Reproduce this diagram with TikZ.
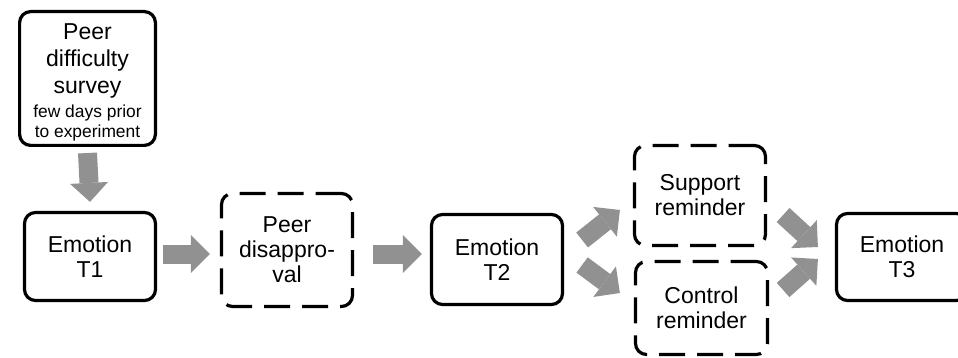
\documentclass[tikz,border=0pt]{standalone}
\usepackage{fontspec}
\setmainfont{Liberation Sans}
\usetikzlibrary{arrows.meta,calc}
\definecolor{arrowgray}{RGB}{145,145,145}
\tikzset{
  box/.style={draw=black, line width=3.2pt, rounded corners=11pt, align=center,
    font=\fontsize{23}{25}\selectfont, inner sep=0pt},
  dbox/.style={box, dash pattern=on 26pt off 12pt},
  blk/.style={draw=arrowgray, line width=19pt, line cap=butt,
    -{Triangle[length=19pt,width=38pt,line width=0pt]}},
}
\newcommand{\smalltext}{\fontsize{17.4}{20}\selectfont}
\begin{document}
\begin{tikzpicture}[x=1pt,y=-1pt]
\useasboundingbox (0,0) rectangle (958,358);
\clip (0,0) rectangle (958,358);
\node[box, font=\fontsize{23}{27}\selectfont, minimum width=135.8pt, minimum height=133.8pt] (survey) at (87.5,78.5)
  {\rule{0pt}{23pt}Peer\\difficulty\\survey\\[-3pt]{\smalltext few days prior}\\[-7pt]{\smalltext to experiment}};
\node[box, minimum width=131pt, minimum height=88pt] (t1) at (90,256.5) {Emotion\\T1};
\node[dbox, minimum width=131pt, minimum height=113pt] (pd) at (287,250) {Peer\\disappro-\\val};
\node[box, minimum width=131pt, minimum height=90pt] (t2) at (497,259.5) {Emotion\\T2};
\node[dbox, minimum width=131pt, minimum height=100pt] (sup) at (700,195.5) {Support\\reminder};
\node[dbox, minimum width=132pt, minimum height=93pt] (ctl) at (701.5,308) {Control\\reminder};
\node[box, minimum width=131pt, minimum height=87pt] (t3) at (902,257) {Emotion\\T3};

\draw[blk] ([yshift=-6pt]survey.south) -- ([yshift=9pt]t1.north);
\draw[blk] ([xshift=6pt,yshift=2.5pt]t1.east) -- ([xshift=-10pt,yshift=-4pt]pd.west);
\draw[blk] ([xshift=19pt,yshift=-4pt]pd.east) -- ([xshift=-8pt,yshift=5.5pt]t2.west);
\draw[blk] ([xshift=18pt,yshift=19.5pt]t2.east) -- ([xshift=-13pt,yshift=-14.5pt]sup.west);
\draw[blk] ([xshift=18pt,yshift=-5.5pt]t2.east) -- ([xshift=-14pt,yshift=15pt]ctl.west);
\draw[blk] ([xshift=16pt,yshift=-19.5pt]sup.east) -- ([xshift=-17pt,yshift=10pt]t3.west);
\draw[blk] ([xshift=14pt,yshift=18pt]ctl.east) -- ([xshift=-17pt,yshift=-2pt]t3.west);
\end{tikzpicture}
\end{document}
